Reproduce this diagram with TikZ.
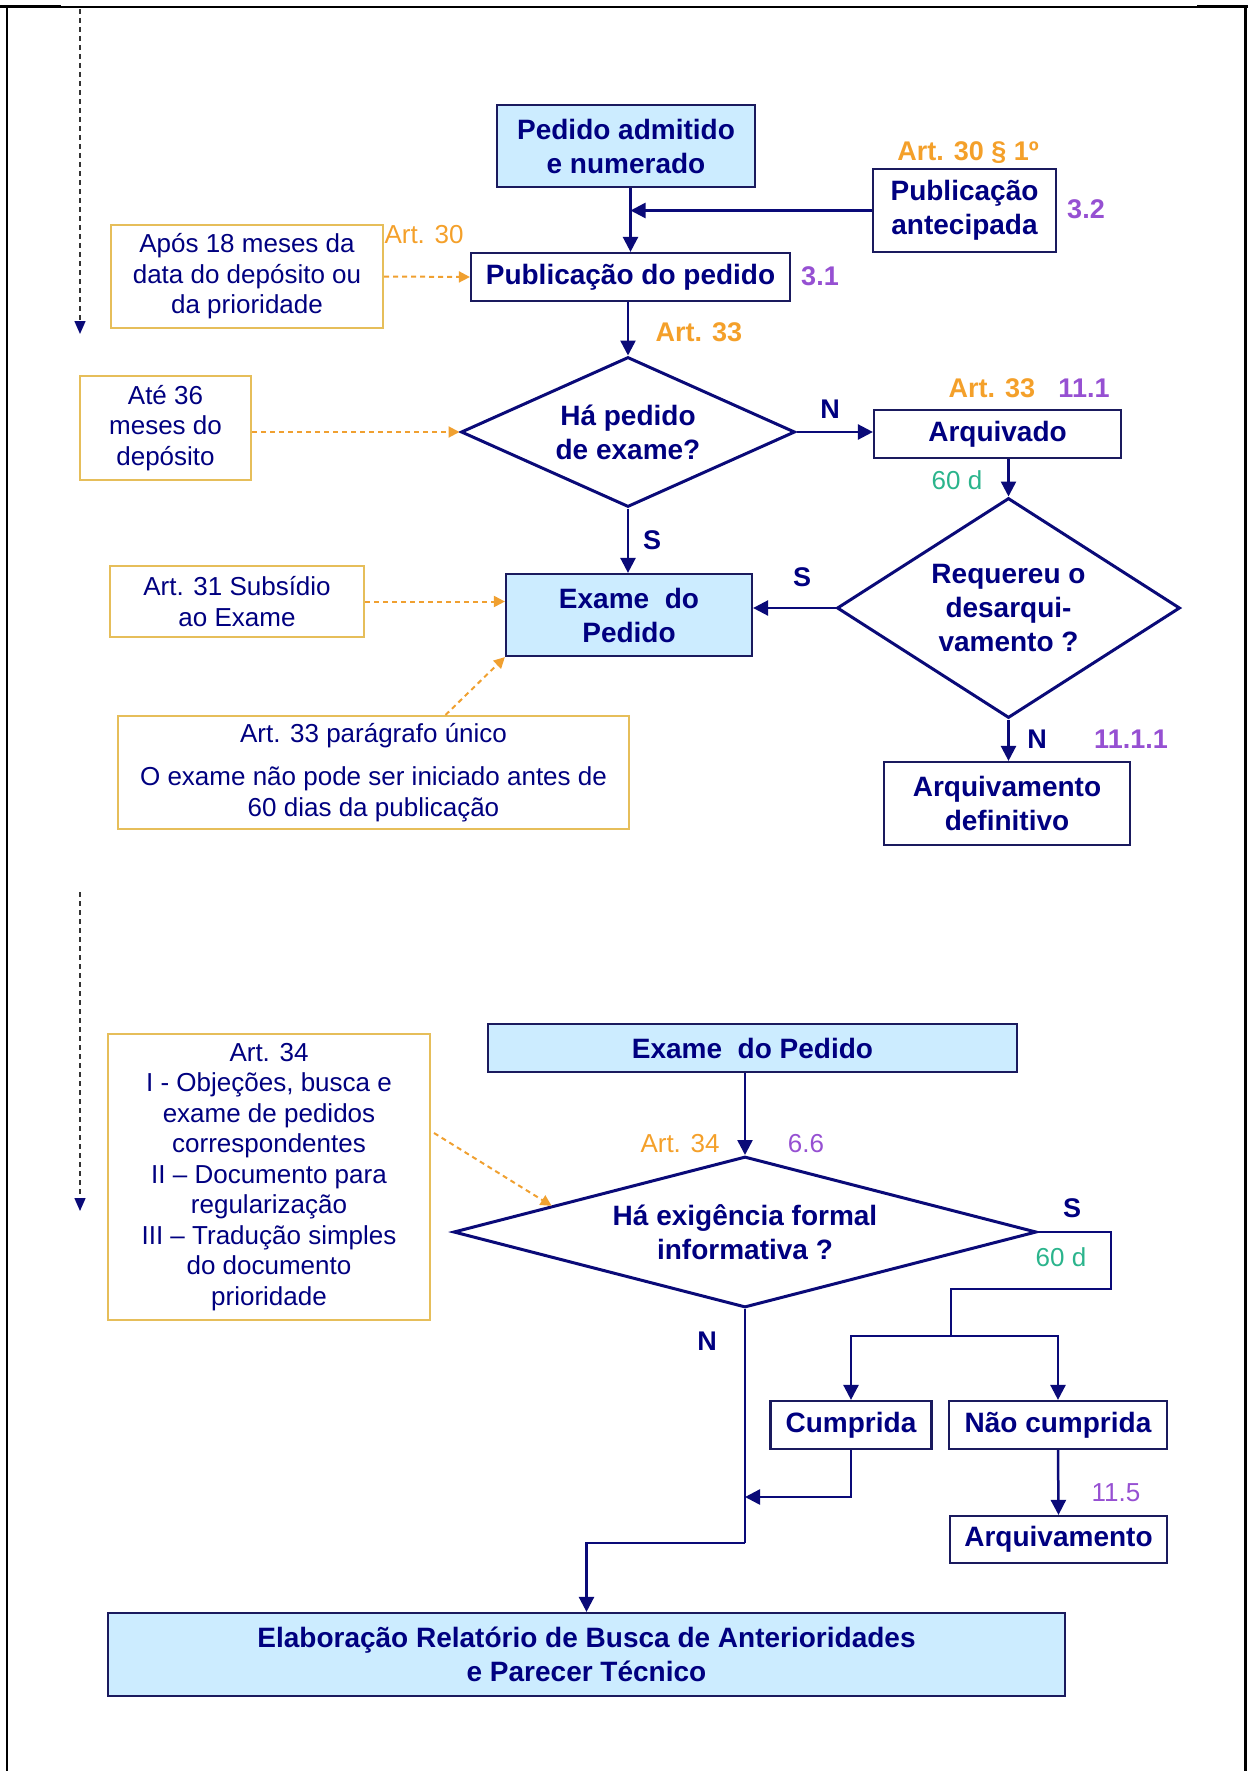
\documentclass[tikz,border=0pt]{standalone}
\usepackage{fontspec}
\setmainfont{Liberation Sans}
\usetikzlibrary{shapes.geometric,arrows.meta,calc}
\definecolor{txtnavy}{HTML}{000080}
\definecolor{linenavy}{HTML}{0A0A78}
\definecolor{boxline}{HTML}{1A1A5E}
\definecolor{lblue}{HTML}{CCECFF}
\definecolor{goldline}{HTML}{E6BE5A}
\definecolor{orangetx}{HTML}{F4A02A}
\definecolor{orangearr}{HTML}{F0A030}
\definecolor{purpletx}{HTML}{9650D2}
\definecolor{tealtx}{HTML}{2BB48C}
\tikzset{
  bfbox/.style={draw=boxline, line width=2.2pt, fill=white, text=txtnavy, align=center, inner sep=0pt,
     font=\bfseries\fontsize{28}{34}\selectfont},
  bluebox/.style={bfbox, fill=lblue},
  orbox/.style={draw=goldline, line width=2pt, fill=white, text=txtnavy, align=center, inner sep=0pt,
     font=\fontsize{26}{30.5}\selectfont},
  dia/.style={diamond, draw=linenavy, line width=3pt, fill=white, text=txtnavy, align=center, inner sep=0pt,
     font=\bfseries\fontsize{28}{34}\selectfont},
  arr/.style={draw=linenavy, line width=2.5pt, -{Triangle[length=15pt,width=15pt]}},
  plain/.style={draw=linenavy, line width=2.5pt},
  oarr/.style={draw=orangearr, line width=2pt, dash pattern=on 5pt off 4pt, -{Triangle[length=11pt,width=11pt]}},
  farr/.style={draw=black!80, line width=1.5pt, dash pattern=on 5pt off 4pt, -{Triangle[length=13pt,width=11pt,color=linenavy]}},
  lblB/.style={inner sep=0pt, font=\bfseries\fontsize{27}{30}\selectfont},
  lblR/.style={inner sep=0pt, font=\fontsize{26}{30}\selectfont},
}
\begin{document}
\begin{tikzpicture}[x=1pt,y=-1pt]
\useasboundingbox (0,0) rectangle (1248,1771);
% frame
\draw[line width=1.5pt] (0,7) -- (1248,7);
\draw[line width=3pt] (0,6.5) -- (61,6.5);
\draw[line width=3pt] (1197,6.5) -- (1248,6.5);
\draw[line width=2.5pt] (7,6) -- (7,1771);
\draw[line width=3pt] (1245,5) -- (1245,1771);
% continuation arrows on the left
\coordinate (f1a) at (80,9);
\coordinate (f1b) at (80,334);
\coordinate (f2a) at (80,892);
\coordinate (f2b) at (80,1211);
\draw[farr] (f1a) -- (f1b);
\draw[farr] (f2a) -- (f2b);

% ---------- top part ----------
\node[bluebox, minimum width=258pt, minimum height=82pt] (pam) at (626,146) {Pedido admitido\\e numerado};
\node[bfbox, minimum width=183pt, minimum height=83pt] (pa) at (964.5,210.5) {Publicação\\antecipada};
\node[bfbox, minimum width=319pt, minimum height=48pt] (pub) at (630.5,277) {Publicação do pedido};
\node[orbox, minimum width=272pt, minimum height=103pt] (apos) at (247,276.5) {Após 18 meses da\\data do depósito ou\\da prioridade};
\node[dia, aspect=2.23, minimum width=334pt, minimum height=150pt] (d1) at (628,432) {Há pedido\\de exame?};
\node[orbox, minimum width=171pt, minimum height=104pt] (ate) at (165.5,428) {Até 36\\meses do\\depósito};
\node[bfbox, minimum width=247pt, minimum height=48pt] (arq) at (997.5,434) {Arquivado};
\node[dia, aspect=1.56, minimum width=343pt, minimum height=220pt] (d2) at (1008.5,608) {Requereu o\\desarqui-\\vamento ?};
\node[bluebox, minimum width=246pt, minimum height=82pt] (ex) at (629,615) {Exame\ \ do\\Pedido};
\node[orbox, minimum width=254pt, minimum height=71pt] (art31) at (237,601.5) {Art. 31 Subsídio\\ao Exame};
\node[orbox, minimum width=511pt, minimum height=113pt] (par) at (373.5,772.5) {Art. 33 parágrafo único\\[13pt]O exame não pode ser iniciado antes de\\60 dias da publicação};
\node[bfbox, minimum width=246pt, minimum height=83pt] (ad) at (1007,803.5) {Arquivamento\\definitivo};

% connectors top
\draw[arr] (pub.north |- pam.south) -- (pub.north);
\draw[arr] (pa.west) -- (pa.west -| pub.north);
\draw[arr] (d1.north |- pub.south) -- (d1.north);
\draw[oarr] (apos.east) -- (pub.west);
\draw[oarr] (ate.east |- d1.west) -- (d1.west);
\draw[arr] (d1.east) -- (d1.east -| arq.west);
\draw[arr] (d2.north |- arq.south) -- (d2.north);
\draw[arr] (d1.south) -- (d1.south |- ex.north);
\draw[arr] (d2.west) -- (d2.west -| ex.east);
\draw[oarr] (art31.east) -- (art31.east -| ex.west);
\draw[oarr] ($(par.north)+(72,0)$) -- (ex.south west);
\draw[arr] (d2.south) -- (d2.south |- ad.north);

% labels top
\node[lblB, text=orangetx] (t1) at (968,153) {Art. 30 § 1º};
\node[lblB, text=purpletx] (t2) at (1086,209) {3.2};
\node[lblB, text=purpletx] (t3) at (820,276) {3.1};
\node[lblR, text=orangetx] (t4) at (424,235) {Art. 30};
\node[lblB, text=orangetx] (t5) at (699,332) {Art. 33};
\node[lblB, text=txtnavy] (t6) at (830,409) {N};
\node[lblB, text=orangetx] (t7) at (992,388) {Art. 33};
\node[lblB, text=purpletx] (t8) at (1084,388) {11.1};
\node[lblR, text=tealtx] (t9) at (957,480) {60 d};
\node[lblB, text=txtnavy] (t10) at (652,540) {S};
\node[lblB, text=txtnavy] (t11) at (802,577) {S};
\node[lblB, text=txtnavy] (t12) at (1037,739) {N};
\node[lblB, text=purpletx] (t13) at (1131,739) {11.1.1};

% ---------- bottom part ----------
\node[bluebox, minimum width=529pt, minimum height=48pt] (ex2) at (752.5,1048) {Exame\ \ do Pedido};
\node[orbox, minimum width=322pt, minimum height=286pt] (art34) at (269,1177) {Art. 34\\I - Objeções, busca e\\exame de pedidos\\correspondentes\\II – Documento para\\regularização\\III – Tradução simples\\do documento\\prioridade};
\node[dia, aspect=3.86, minimum width=583pt, minimum height=151pt] (d3) at (745,1232) {Há exigência formal\\informativa ?};
\node[bfbox, minimum width=161pt, minimum height=48pt] (cum) at (851,1425) {Cumprida};
\node[bfbox, minimum width=218pt, minimum height=48pt] (nc) at (1058,1425) {Não cumprida};
\node[bfbox, minimum width=217pt, minimum height=47pt] (arqv) at (1058.5,1539.5) {Arquivamento};
\node[bluebox, minimum width=957pt, minimum height=83pt] (elab) at (586.5,1654.5) {Elaboração Relatório de Busca de Anterioridades\\e Parecer Técnico};

\coordinate (c1) at (1111,1232);
\coordinate (c2) at (1111,1289);
\coordinate (c3) at (951,1289);
\coordinate (j1) at (951,1336);
\coordinate (m1) at (745,1543);
\coordinate (m2) at (745,1497);

\draw[arr] (d3.north |- ex2.south) -- (d3.north);
\draw[oarr] ($(art34.east)+(3,-44)$) -- ($(d3.west)!0.34!(d3.north)$);
\draw[plain] (d3.east) -- (c1) -- (c2) -- (c3) -- (j1);
\draw[arr] (j1) -| (cum.north);
\draw[arr] (j1) -| (nc.north);
\draw[plain] (d3.south) -- (m1);
\draw[arr] (m1) -| (elab.north);
\draw[arr] (cum.south) |- (m2);
\draw[arr] (nc.south) -- (arqv.north);

% labels bottom
\node[lblR, text=orangetx] (b1) at (680,1144) {Art. 34};
\node[lblR, text=purpletx] (b2) at (806,1144) {6.6};
\node[lblB, text=txtnavy] (b3) at (1072,1208) {S};
\node[lblR, text=tealtx] (b4) at (1061,1257) {60 d};
\node[lblB, text=txtnavy] (b5) at (707,1341) {N};
\node[lblR, text=purpletx] (b6) at (1116,1493) {11.5};
\end{tikzpicture}
\end{document}
